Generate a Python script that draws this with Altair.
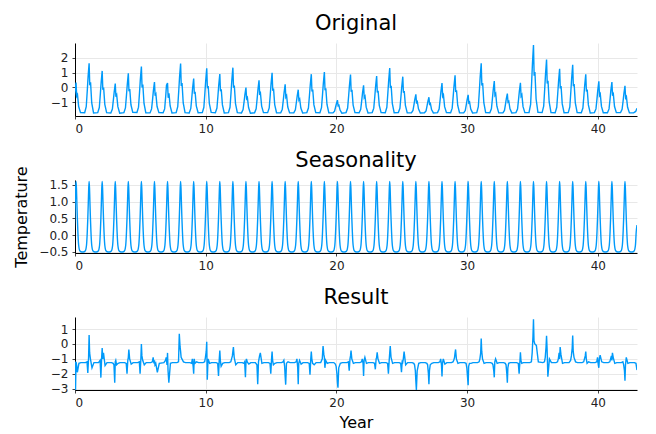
import altair as alt
import pandas as pd

BLUE = "#009AFA"
FONT = "DejaVu Sans"
PLOT_W, PLOT_H = 562, 73

x_ticks = [0, 10, 20, 30, 40]
x_domain = [0, 43]

# ---- Original: one spike per year, sampled at fixed phases (years after Jan 1) ----
orig_phase = [-0.26, -0.14, -0.06, 0.0, 0.08, 0.13, 0.19, 0.28, 0.42]
orig_rows = [
    [-1.70, -1.46, -0.79, -0.24, 0.33, -0.58, -0.48, -1.29, -1.70],
    [-1.71, -1.30, -0.20, 0.70, 1.63, 0.15, 0.35, -1.05, -1.72],
    [-1.70, -1.36, -0.43, 0.33, 1.12, -0.15, 0.00, -1.14, -1.70],
    [-1.72, -1.46, -0.81, -0.30, 0.27, -0.62, -0.50, -1.30, -1.74],
    [-1.70, -1.38, -0.50, 0.20, 0.96, -0.25, -0.10, -1.17, -1.68],
    [-1.69, -1.33, -0.30, 0.55, 1.41, 0.00, 0.20, -1.08, -1.72],
    [-1.72, -1.45, -0.77, -0.20, 0.37, -0.56, -0.45, -1.29, -1.70],
    [-1.71, -1.45, -0.60, 0.15, 0.30, -0.70, -0.40, -1.25, -1.73],
    [-1.70, -1.30, -0.20, 0.70, 1.62, 0.10, 0.30, -1.05, -1.70],
    [-1.72, -1.42, -0.66, -0.03, 0.61, -0.42, -0.30, -1.24, -1.71],
    [-1.70, -1.34, -0.35, 0.46, 1.30, -0.05, 0.10, -1.10, -1.69],
    [-1.71, -1.39, -0.53, 0.18, 0.91, -0.26, -0.13, -1.18, -1.72],
    [-1.70, -1.34, -0.33, 0.50, 1.34, -0.02, 0.13, -1.09, -1.70],
    [-1.72, -1.50, -0.94, -0.48, 0.00, -0.76, -0.68, -1.36, -1.74],
    [-1.71, -1.44, -0.72, -0.12, 0.48, -0.50, -0.39, -1.26, -1.70],
    [-1.70, -1.38, -0.49, 0.25, 1.00, -0.22, -0.08, -1.16, -1.71],
    [-1.72, -1.47, -0.84, -0.32, 0.21, -0.65, -0.55, -1.32, -1.72],
    [-1.71, -1.51, -1.00, -0.58, -0.15, -0.85, -0.77, -1.39, -1.73],
    [-1.70, -1.39, -0.53, 0.17, 0.90, -0.27, -0.14, -1.18, -1.70],
    [-1.71, -1.37, -0.47, 0.27, 1.04, -0.19, -0.06, -1.15, -1.71],
    [-1.72, -1.60, -1.32, -1.10, -0.86, -1.24, -1.20, -1.53, -1.74],
    [-1.70, -1.39, -0.54, 0.15, 0.87, -0.29, -0.16, -1.19, -1.70],
    [-1.71, -1.48, -0.87, -0.37, 0.15, -0.68, -0.59, -1.33, -1.72],
    [-1.70, -1.40, -0.59, 0.08, 0.77, -0.34, -0.22, -1.21, -1.70],
    [-1.71, -1.34, -0.35, 0.47, 1.31, -0.04, 0.11, -1.10, -1.71],
    [-1.70, -1.41, -0.61, 0.05, 0.73, -0.36, -0.24, -1.21, -1.72],
    [-1.72, -1.55, -1.14, -0.81, -0.46, -1.02, -0.96, -1.45, -1.73],
    [-1.71, -1.58, -1.23, -0.95, -0.66, -1.13, -1.08, -1.49, -1.72],
    [-1.70, -1.46, -0.80, -0.26, 0.30, -0.60, -0.50, -1.30, -1.70],
    [-1.71, -1.40, -0.57, 0.11, 0.82, -0.31, -0.19, -1.20, -1.71],
    [-1.72, -1.56, -1.16, -0.84, -0.50, -1.04, -0.98, -1.46, -1.72],
    [-1.70, -1.30, -0.20, 0.70, 1.63, 0.14, 0.30, -1.03, -1.70],
    [-1.71, -1.44, -0.74, -0.16, 0.44, -0.52, -0.42, -1.27, -1.72],
    [-1.72, -1.55, -1.12, -0.77, -0.41, -0.99, -0.93, -1.44, -1.72],
    [-1.70, -1.46, -0.79, -0.25, 0.32, -0.59, -0.49, -1.30, -1.70],
    [-1.69, -1.15, 0.36, 1.60, 2.87, 0.80, 1.05, -0.78, -1.68],
    [-1.70, -1.27, -0.08, 0.90, 1.89, 0.27, 0.45, -0.98, -1.70],
    [-1.71, -1.34, -0.36, 0.44, 1.27, -0.06, 0.09, -1.11, -1.71],
    [-1.70, -1.31, -0.25, 0.63, 1.53, 0.08, 0.24, -1.05, -1.70],
    [-1.71, -1.39, -0.53, 0.17, 0.89, -0.27, -0.14, -1.18, -1.72],
    [-1.70, -1.45, -0.75, -0.17, 0.42, -0.53, -0.43, -1.28, -1.71],
    [-1.71, -1.45, -0.77, -0.20, 0.37, -0.56, -0.45, -1.29, -1.70],
    [-1.70, -1.48, -0.89, -0.40, 0.11, -0.71, -0.62, -1.34, -1.72],
]
orig_tail_x = [42.74, 42.90, 43.0]
orig_tail_y = [-1.71, -1.62, -1.40]

# ---- Seasonality: the fitted yearly cycle ----
season_phase = [-0.37, -0.22, -0.12, -0.06, -0.02, 0.02, 0.05, 0.08,
                0.11, 0.14, 0.18, 0.22, 0.28, 0.38, 0.53]
season_cycle = [-0.50, -0.47, -0.30, 0.10, 0.50, 1.00, 1.40, 1.60,
                1.40, 1.00, 0.50, 0.10, -0.30, -0.47, -0.50]
season_years = 43
season_tail_x = [42.63, 42.78, 42.88, 42.94, 43.0]
season_tail_y = [-0.50, -0.47, -0.30, 0.10, 0.30]

# ---- Result: original with the seasonal cycle removed ----
res_phase = [-0.20, -0.08, -0.02, 0.04, 0.08, 0.12, 0.18, 0.30, 0.45]
res_rows = [
    [-1.25, -1.30, -1.25, -3.10, -1.20, -1.40, -1.90, -1.30, -1.25],
    [-1.25, -1.20, -1.95, -0.90, 0.60, -0.60, -1.00, -1.60, -1.25],
    [-1.25, -1.10, -2.26, -0.90, -0.28, -1.00, -0.60, -1.45, -1.25],
    [-1.25, -1.30, -1.40, -2.60, -1.20, -1.10, -1.40, -1.30, -1.25],
    [-1.25, -1.30, -2.00, -1.10, -0.90, -0.37, -1.00, -1.35, -1.25],
    [-1.25, -1.20, -2.00, -1.00, 0.00, -0.80, -1.10, -1.40, -1.25],
    [-1.25, -1.20, -0.90, -1.30, -1.10, -1.40, -1.30, -1.90, -1.30],
    [-1.25, -1.10, -0.90, -1.40, -0.60, -1.80, -2.60, -1.30, -1.25],
    [-1.25, -1.20, 0.68, -0.20, -0.50, -0.90, -1.00, -1.20, -1.25],
    [-1.25, -1.30, -1.00, -1.50, -2.00, -1.00, -1.30, -1.20, -1.25],
    [-1.25, -1.20, -0.90, -0.50, 0.14, -2.40, -1.00, -1.30, -1.25],
    [-1.25, -1.30, -2.15, -1.00, -0.44, -1.10, -1.50, -1.30, -1.25],
    [-1.25, -1.20, -1.00, -0.80, -0.50, -0.21, -0.90, -1.40, -1.25],
    [-1.25, -1.30, -1.20, -2.24, -1.30, -1.00, -1.20, -1.35, -1.25],
    [-1.25, -1.40, -2.70, -1.20, -1.00, -0.80, -0.60, -1.30, -1.25],
    [-1.25, -1.30, -2.00, -1.00, -0.51, -1.10, -1.40, -1.30, -1.25],
    [-1.25, -1.20, -1.10, -1.50, -2.20, -2.73, -1.30, -1.20, -1.25],
    [-1.25, -1.20, -1.00, -1.60, -2.70, -1.30, -1.10, -1.35, -1.25],
    [-1.25, -1.30, -2.07, -1.00, -0.51, -1.00, -1.30, -1.40, -1.25],
    [-1.25, -1.00, -0.14, -0.70, -0.90, -1.60, -1.10, -1.30, -1.25],
    [-1.25, -1.35, -1.50, -2.00, -2.60, -2.94, -1.60, -1.30, -1.25],
    [-1.25, -1.20, -1.80, -1.00, -0.80, -0.44, -1.00, -1.30, -1.25],
    [-1.25, -1.20, -1.00, -1.30, -2.15, -1.10, -0.90, -1.30, -1.25],
    [-1.25, -1.30, -1.70, -1.00, -0.90, -0.56, -1.00, -1.30, -1.25],
    [-1.25, -1.30, -2.00, -1.10, -0.60, -0.14, -0.90, -1.30, -1.25],
    [-1.25, -1.30, -1.90, -1.10, -1.20, -1.00, -0.51, -1.40, -1.25],
    [-1.25, -1.30, -1.40, -1.80, -2.50, -3.08, -1.80, -1.30, -1.25],
    [-1.25, -1.30, -1.40, -2.00, -2.70, -1.80, -1.40, -1.30, -1.25],
    [-1.25, -1.20, -1.00, -1.40, -2.19, -1.30, -1.00, -1.35, -1.25],
    [-1.25, -1.20, -1.10, -0.90, -0.60, -0.37, -1.00, -1.30, -1.25],
    [-1.25, -1.30, -1.60, -2.30, -2.77, -1.50, -1.30, -1.30, -1.25],
    [-1.25, -1.20, -1.00, -0.60, 0.37, -0.50, -1.00, -1.30, -1.25],
    [-1.25, -1.30, -1.40, -1.80, -2.24, -1.20, -1.00, -1.30, -1.25],
    [-1.25, -1.30, -1.40, -2.00, -2.60, -1.60, -1.30, -1.25, -1.25],
    [-1.25, -1.30, -2.00, -1.20, -0.56, -1.10, -1.30, -1.25, -1.25],
    [-1.25, -1.20, -0.60, 0.50, 1.65, 0.20, 0.00, -0.10, -1.20],
    [-1.25, -1.20, -0.90, -0.20, 0.55, -0.30, -2.20, -1.00, -1.25],
    [-1.25, -1.20, -1.00, -0.60, -1.00, -0.21, -0.70, -1.30, -1.25],
    [-1.25, -1.10, -0.80, -0.30, 0.56, -0.50, -0.90, -1.20, -1.25],
    [-1.25, -1.20, -1.00, -0.80, -0.51, -1.00, -1.30, -1.20, -1.25],
    [-1.25, -1.20, -0.90, -1.40, -1.60, -1.00, -0.75, -1.20, -1.25],
    [-1.25, -1.20, -1.00, -0.80, -1.10, -0.60, -0.90, -1.30, -1.25],
    [-1.25, -1.20, -1.40, -1.80, -2.47, -1.40, -0.90, -1.30, -1.25],
]
res_tail_x = [42.80, 42.92, 43.0]
res_tail_y = [-1.25, -1.30, -1.75]


def yearly_frame(phase, rows, tail_x, tail_y):
    xs, ys = [], []
    for year, row in enumerate(rows):
        for ph, v in zip(phase, row):
            xs.append(year + ph)
            ys.append(v)
    xs += tail_x
    ys += tail_y
    return pd.DataFrame({"x": xs, "y": ys})


orig_df = yearly_frame(orig_phase, orig_rows, orig_tail_x, orig_tail_y)
season_df = yearly_frame(season_phase, [season_cycle] * season_years,
                         season_tail_x, season_tail_y)
res_df = yearly_frame(res_phase, res_rows, res_tail_x, res_tail_y)


def panel(frame, title, ydomain, yvalues, yformat, interp, xtitle=None, ytitle=None):
    x_axis = alt.Axis(values=x_ticks, format="d", titlePadding=6)
    y_axis = alt.Axis(values=yvalues, format=yformat, titlePadding=9)
    line = (
        alt.Chart(frame)
        .mark_line(color=BLUE, strokeWidth=1.4, clip=True, interpolate=interp)
        .encode(
            x=alt.X("x:Q", scale=alt.Scale(domain=x_domain, nice=False, zero=False),
                    axis=x_axis, title=xtitle),
            y=alt.Y("y:Q", scale=alt.Scale(domain=ydomain, nice=False, zero=False),
                    axis=y_axis, title=ytitle),
        )
    )
    # panel heading drawn as text just above the plot area
    heading = (
        alt.Chart(pd.DataFrame({"label": [title]}))
        .mark_text(font=FONT, fontSize=21, color="black", align="center",
                   baseline="alphabetic")
        .encode(text="label:N", x=alt.value(PLOT_W / 2), y=alt.value(-13.5))
    )
    return alt.layer(line, heading).properties(width=PLOT_W, height=PLOT_H)


top = panel(orig_df, "Original", [-1.93, 3.01], [-1, 0, 1, 2], "d", "linear")
mid = panel(season_df, "Seasonality", [-0.53, 1.64], [-0.5, 0, 0.5, 1.0, 1.5], ".1f",
            "monotone", ytitle="Temperature")
bot = panel(res_df, "Result", [-3.09, 1.81], [-3, -2, -1, 0, 1], "d", "linear",
            xtitle="Year")

# flush bounds: panels are spaced by their plot areas, so axis labels and
# headings sit in the gaps between them
chart = (
    alt.vconcat(top, mid, bot, spacing=64, bounds="flush")
    .properties(padding={"left": 13, "top": 12, "right": 5, "bottom": 2},
                background="white")
    .configure_view(stroke=None)
    .configure_axis(
        domainColor="black", domainWidth=1,
        gridColor="#e8e8e8", gridWidth=1,
        tickColor="#444444", tickSize=3,
        labelFont=FONT, labelFontSize=12, labelColor="#222222", labelPadding=4,
        titleFont=FONT, titleFontSize=16, titleFontWeight="normal", titleColor="black",
    )
)

chart.save("out.html", embed_options={"renderer": "svg", "actions": False})
